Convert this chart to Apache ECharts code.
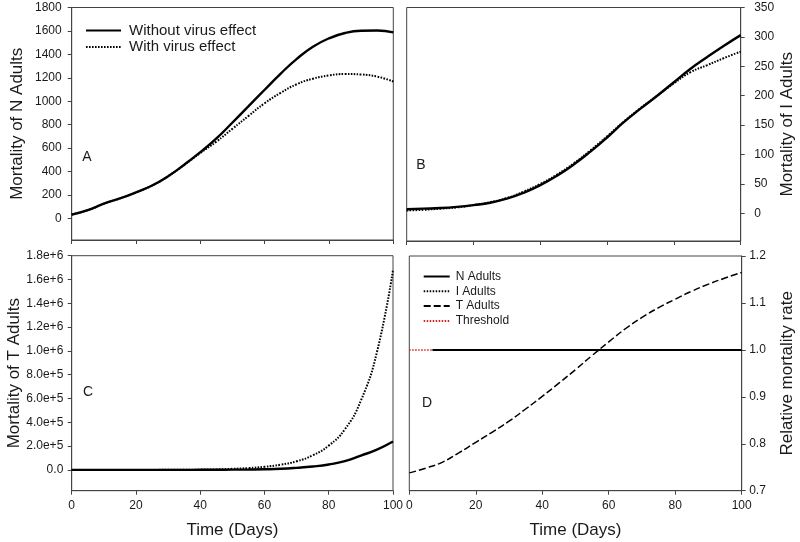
<!DOCTYPE html>
<html><head><meta charset="utf-8">
<script src="https://cdn.jsdelivr.net/npm/echarts@6/dist/echarts.min.js"></script>
<style>html,body{margin:0;padding:0;background:#fff}#c{width:800px;height:542px}</style>
</head><body><div id="c"></div>
<script>
// ---- data ----
const days = [0,5,10,15,20,25,30,35,40,45,50,55,60,65,70,75,80,85,90,95,100];
// Panel A: mortality of N adults
const nWithout = [32,70,125,170,222,280,360,458,565,682,818,958,1098,1236,1362,1465,1537,1582,1601,1603,1588];
const nWith    = [32,70,125,170,222,280,360,456,558,655,765,875,983,1072,1145,1192,1220,1232,1228,1210,1168];
// Panel B: mortality of I adults
const iWithout = [7,8,9,11,14,18,25,35,48,64,83,105,129,155,178,200,223,246,266,285,303];
const iWith    = [5,6,8,10,14,19,26,37,50,66,85,107,131,156,179,200,221,240,252,264,275];
// Panel C: mortality of T adults
const tWithout = [0,0,0,0,0,0,0,200,600,1200,2000,3200,5000,9000,17000,28000,45000,73000,120000,170000,238000];
const tWith    = [0,0,0,0,0,0,200,800,2000,4000,8700,15000,26000,43000,72000,122000,204000,340000,582000,990000,1680000];
// Panel D: relative mortality rate
const tAdultsRel = [0.738,0.748,0.761,0.781,0.803,0.825,0.848,0.874,0.901,0.929,0.958,0.988,1.017,1.045,1.069,1.090,1.108,1.125,1.140,1.153,1.165];
const flatDays = [7,100];
const nAdultsRel = [1.0,1.0];
const iAdultsRel = [1.0,1.0];
const thresholdDays = [0,100];
const thresholdRel = [1.0,1.0];
// tick labels
const xTicks = [0,20,40,60,80,100];
const yTicksA = [0,200,400,600,800,1000,1200,1400,1600,1800];
const yTicksB = [0,50,100,150,200,250,300,350];
const yTicksC = [0,200000,400000,600000,800000,1000000,1200000,1400000,1600000,1800000];
const yTicksD = [0.7,0.8,0.9,1.0,1.1,1.2];

const pairs = (xs, ys) => xs.map((x,i)=>[x, ys[i]]);
const FONT = 'Liberation Sans, Arial, sans-serif';
const AX = '#444';
const TXT = '#1a1a1a';

const grids = [
  {left:71.7, top:7.5, width:321.6, height:232.5},
  {left:406.7, top:7.5, width:334, height:233.5},
  {left:71.7, top:255.7, width:321.3, height:235},
  {left:409.3, top:256, width:332.4, height:234.7}
].map(g => Object.assign(g, {show:true, borderColor:AX, borderWidth:1, backgroundColor:'transparent'}));

function xAx(i, showLabels){
  return {
    type:'value', gridIndex:i, min:0, max:100, interval:20,
    axisLine:{show:true, onZero:false, lineStyle:{color:AX, width:1}},
    axisTick:{show:true, inside:false, length:4, lineStyle:{color:AX}},
    axisLabel:{show:showLabels, margin:9, fontSize:12, color:TXT, fontFamily:FONT, customValues: xTicks},
    splitLine:{show:false},
    name: showLabels ? 'Time (Days)' : '',
    nameLocation:'middle', nameGap:31,
    nameTextStyle:{fontSize:17, color:TXT, fontFamily:FONT}
  };
}
function yAx(i, pos, min, max, ticks, fmt, name, nameGap, margin){
  return {
    type:'value', gridIndex:i, position:pos, min:min, max:max,
    axisLine:{show:true, onZero:false, lineStyle:{color:AX, width:1}},
    axisTick:{show:true, inside:false, length:4, lineStyle:{color:AX}, customValues: ticks},
    axisLabel:{show:true, margin:margin, fontSize:12, color:TXT, fontFamily:FONT, customValues: ticks, formatter: fmt},
    splitLine:{show:false},
    name:name, nameLocation:'middle', nameGap:nameGap, nameRotate:90,
    nameTextStyle:{fontSize:17, color:TXT, fontFamily:FONT}
  };
}

const solid = (w)=>({color:'#000', width:w, type:'solid'});
const dotted = (w)=>({color:'#000', width:w, type:[1.6,1.4]});

function ser(name, xi, data, ls, z){
  return {type:'line', name:name, xAxisIndex:xi, yAxisIndex:xi, data:data, symbol:'none',
    smooth:0.5, lineStyle:ls, z:z||2, silent:true, animation:false};
}

const option = {
  animation:false,
  textStyle:{fontFamily:FONT},
  grid: grids,
  xAxis:[xAx(0,false), xAx(1,false), xAx(2,true), xAx(3,true)],
  yAxis:[
    yAx(0,'left',-185,1800,yTicksA, v=>String(v), 'Mortality of N Adults', 46, 10),
    yAx(1,'right',-47,350,yTicksB, v=>String(v), 'Mortality of I Adults', 38, 13.5),
    yAx(2,'left',-175000,1800000,yTicksC, v=> v===0 ? '0.0' : v.toExponential(1), 'Mortality of T Adults', 46, 8.4),
    yAx(3,'right',0.7,1.2,yTicksD, v=>v.toFixed(1), 'Relative mortality rate', 37, 7.5)
  ],
  legend:[
    {data:['Without virus effect','With virus effect'], orient:'vertical', left:85, top:23,
     itemWidth:35, itemHeight:18, itemGap:1.6, padding:0, selectedMode:false,
     itemStyle:{opacity:0},
     textStyle:{fontSize:15, color:TXT, fontFamily:FONT, padding:[0,0,0,3]}},
    {data:['N Adults','I Adults','T Adults','Threshold'], orient:'vertical', left:422.7, top:270.5,
     itemWidth:26, itemHeight:12, itemGap:2.8, padding:0, selectedMode:false,
     itemStyle:{opacity:0},
     textStyle:{fontSize:12, color:TXT, fontFamily:FONT, padding:[0,0,0,1]}}
  ],
  series:[
    ser('Without virus effect',0,pairs(days,nWithout),solid(2.4),3),
    ser('With virus effect',0,pairs(days,nWith),dotted(2),2),
    ser('Without virus effect',1,pairs(days,iWithout),solid(2.4),3),
    ser('With virus effect',1,pairs(days,iWith),dotted(2),2),
    ser('Without virus effect',2,pairs(days,tWithout),solid(2.4),3),
    ser('With virus effect',2,pairs(days,tWith),dotted(2),2),
    ser('Threshold',3,pairs(thresholdDays,thresholdRel),{color:'#d62020', width:1.5, type:[1.5,1.5]},1),
    ser('I Adults',3,pairs(flatDays,iAdultsRel),{color:'#000', width:1.2, type:[1.5,1.5]},2),
    ser('N Adults',3,pairs(flatDays,nAdultsRel),solid(2),3),
    ser('T Adults',3,pairs(days,tAdultsRel),{color:'#000', width:1.5, type:[7,3]},3)
  ],
  graphic:[
    {type:'text', x:87, y:157, style:{text:'A', fontSize:14, fill:TXT, fontFamily:FONT, align:'center', verticalAlign:'middle'}},
    {type:'text', x:421, y:165, style:{text:'B', fontSize:14, fill:TXT, fontFamily:FONT, align:'center', verticalAlign:'middle'}},
    {type:'text', x:88, y:392, style:{text:'C', fontSize:14, fill:TXT, fontFamily:FONT, align:'center', verticalAlign:'middle'}},
    {type:'text', x:427, y:403, style:{text:'D', fontSize:14, fill:TXT, fontFamily:FONT, align:'center', verticalAlign:'middle'}}
  ]
};
const chart = echarts.init(document.getElementById('c'), null, {renderer:'canvas'});
chart.setOption(option);
</script></body></html>
